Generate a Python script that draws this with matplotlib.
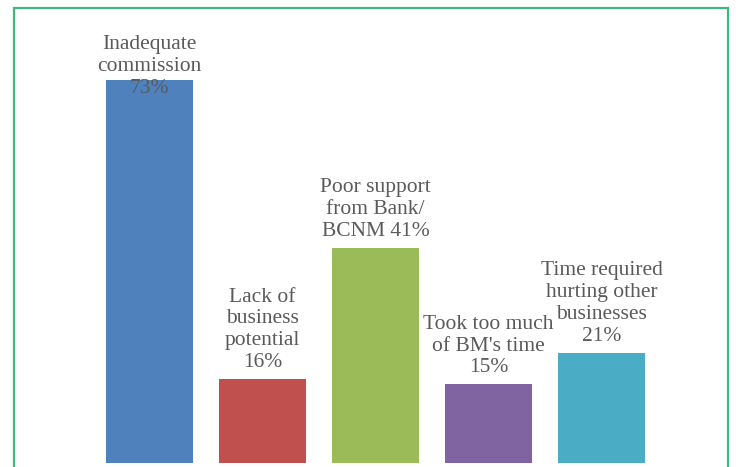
import matplotlib.pyplot as plt
from matplotlib.patches import Rectangle

# data
labels = ["Inadequate\ncommission", "Lack of\nbusiness\npotential", "Poor support\nfrom Bank/\nBCNM",
          "Took too much\nof BM's time", "Time required\nhurting other\nbusinesses"]
values = [73, 16, 41, 15, 21]
colors = ["#4f81bd", "#c0504d", "#9bbb59", "#8064a2", "#4bacc6"]
# percent goes on the same line for the Bank/BCNM label
inline_pct = [False, False, True, False, False]

W, H = 741, 467
fig = plt.figure(figsize=(W / 100, H / 100), dpi=100)
fig.patch.set_facecolor("white")

# green frame (bottom edge runs off the picture)
fig.add_artist(Rectangle((14 / W, -0.05), (728 - 14) / W, (H - 8) / H + 0.05,
                         transform=fig.transFigure, fill=False,
                         edgecolor="#3dbb7d", linewidth=1.6))

ax = fig.add_axes([14 / W, 4 / H, 714 / W, 453 / H])
x = list(range(len(values)))
ax.bar(x, values, width=0.77, color=colors)
ax.set_xlim(-1.2, 5.12)
ax.set_ylim(0, 453 / 5.25)
ax.axis("off")

for i, v in enumerate(values):
    if inline_pct[i]:
        txt = labels[i] + " %d%%" % v
    else:
        txt = labels[i] + "\n%d%%" % v
    off = -13 if i == 0 else 5
    ax.annotate(txt, (i, v), xytext=(0, off), textcoords="offset points",
                ha="center", va="bottom", fontsize=15.5, color="#5a5a5a",
                family="Liberation Serif", linespacing=1.2)

fig.savefig("out.png", dpi=100)
